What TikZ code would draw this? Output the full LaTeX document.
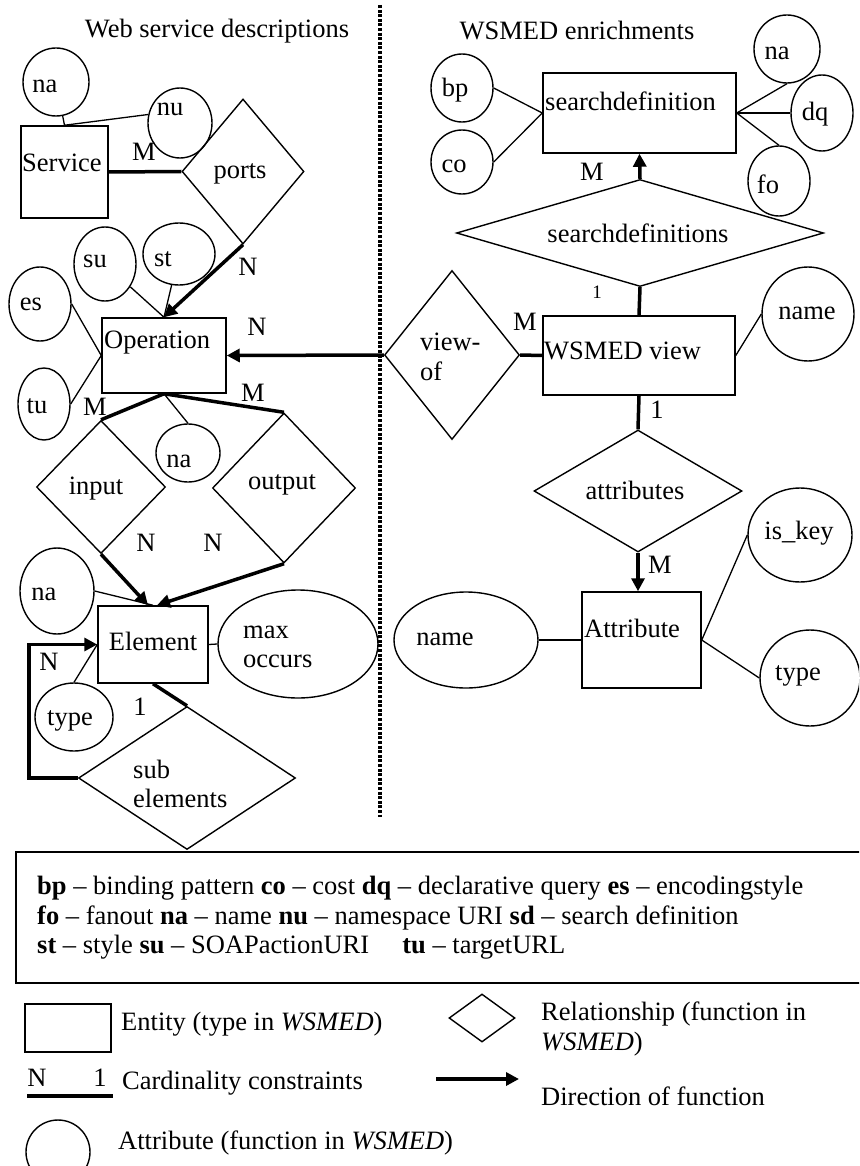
\documentclass[tikz,border=0pt]{standalone}
\usepackage{fontspec}
\setmainfont{Liberation Serif}
\usetikzlibrary{shapes.geometric,arrows.meta}
\begin{document}
\begin{tikzpicture}[x=1pt,y=-1pt,
  font=\fontsize{26.5}{29.5}\selectfont,
  ent/.style={draw,rectangle,line width=1.5pt,inner sep=0pt},
  rel/.style={draw,diamond,line width=1.4pt,inner sep=0pt},
  att/.style={draw,ellipse,line width=1.4pt,inner sep=0pt},
  lbl/.style={inner sep=0pt},
  conn/.style={line width=1.3pt},
  card/.style={line width=3.5pt},
  fn/.style={card,-{Triangle[length=13pt,width=13pt]}},
  smalllbl/.style={inner sep=0pt,font=\fontsize{19}{22}\selectfont}
]
\useasboundingbox (0,0) rectangle (859,1166);
\clip (0,0) rectangle (859,1166);

% titles and separator
\node[lbl] (t1) at (217,31) {Web service descriptions};
\node[lbl] (t2) at (577,31) {WSMED enrichments};
\coordinate (dtop) at (380,5);
\coordinate (dbot) at (380,817);
\draw[line width=3.2pt,dash pattern=on 3pt off 1.6pt] (dtop) -- (dbot);

% entities
\node[ent,minimum width=87pt,minimum height=92pt] (svc) at (64.5,172) {};
\node[ent,minimum width=124pt,minimum height=75pt] (op) at (164,355.5) {};
\node[ent,minimum width=110pt,minimum height=77pt] (el) at (153,644.5) {};
\node[ent,minimum width=193pt,minimum height=80pt] (sd) at (639.5,113) {};
\node[ent,minimum width=192pt,minimum height=79pt] (wv) at (639,355.5) {};
\node[ent,minimum width=119pt,minimum height=96pt] (attr) at (641.5,640) {};
\node[lbl,anchor=west] (svct) at (22,163) {Service};
\node[lbl,anchor=west] (opt) at (104,343) {Operation};
\node[lbl] (elt) at (153,641) {Element};
\node[lbl,anchor=west] (sdt) at (545,101) {searchdefinition};
\node[lbl,anchor=west] (wvt) at (544,351) {WSMED view};
\node[lbl,anchor=west] (attrt) at (584,628) {Attribute};

% relationships
\node[rel,minimum width=122pt,minimum height=145pt] (ports) at (243,171.5) {};
\node[rel,minimum width=367pt,minimum height=107pt] (sds) at (640,233) {};
\node[rel,minimum width=135pt,minimum height=169pt] (vo) at (452,355) {};
\node[rel,minimum width=129pt,minimum height=133pt] (in) at (101,487) {};
\node[rel,minimum width=143pt,minimum height=150pt] (out) at (284,488) {};
\node[rel,minimum width=208pt,minimum height=122pt] (attrs) at (638,491) {};
\node[rel,minimum width=217pt,minimum height=143pt] (se) at (187,778) {};
\node[lbl] (portst) at (240,174) {ports};
\node[lbl] (sdst) at (638,233) {searchdefinitions};
\node[lbl,anchor=west,align=left] (vot) at (420,357) {view-\\of};
\node[lbl] (int) at (96,489) {input};
\node[lbl] (outt) at (282,485) {output};
\node[lbl] (attrst) at (635,490) {attributes};
\node[lbl,anchor=west,align=left] (set) at (133,784) {sub\\elements};

% attributes (ellipses)
\node[att,minimum width=66pt,minimum height=68pt] (na1) at (56,82) {};
\node[att,minimum width=64pt,minimum height=70pt] (nu) at (180,123) {};
\node[att,minimum width=62pt,minimum height=74pt] (su) at (105,264) {};
\node[att,minimum width=72pt,minimum height=62pt] (st) at (179,254) {};
\node[att,minimum width=62pt,minimum height=74pt] (es) at (40,304) {};
\node[att,minimum width=52pt,minimum height=72pt] (tu) at (44,404) {};
\node[att,minimum width=64pt,minimum height=58pt] (na2) at (188,453) {};
\node[att,minimum width=74pt,minimum height=86pt] (na3) at (57,591) {};
\node[att,minimum width=160pt,minimum height=108pt] (mo) at (298,644) {};
\node[att,minimum width=78pt,minimum height=68pt] (type1) at (74,717) {};
\node[att,minimum width=62pt,minimum height=68pt] (bp) at (462,88) {};
\node[att,minimum width=62pt,minimum height=64pt] (co) at (462,162) {};
\node[att,minimum width=66pt,minimum height=68pt] (na4) at (787,49) {};
\node[att,minimum width=62pt,minimum height=76pt] (dq) at (822,113) {};
\node[att,minimum width=62pt,minimum height=70pt] (fo) at (779,181) {};
\node[att,minimum width=92pt,minimum height=94pt] (name1) at (808,314) {};
\node[att,minimum width=144pt,minimum height=96pt] (name2) at (466,640) {};
\node[att,minimum width=104pt,minimum height=94pt] (iskey) at (800,535) {};
\node[att,minimum width=100pt,minimum height=96pt] (type2) at (810,678) {};
\node[lbl] (na1t) at (45,86) {na};
\node[lbl] (nut) at (170,109) {nu};
\node[lbl] (sut) at (95,261) {su};
\node[lbl] (stt) at (163,259) {st};
\node[lbl] (est) at (31,304) {es};
\node[lbl] (tut) at (37,406) {tu};
\node[lbl] (na2t) at (179,461) {na};
\node[lbl] (na3t) at (44,594) {na};
\node[lbl,anchor=west,align=left] (mot) at (243,647) {max\\occurs};
\node[lbl] (type1t) at (70,721) {type};
\node[lbl] (bpt) at (455,90) {bp};
\node[lbl] (cot) at (454,166) {co};
\node[lbl] (na4t) at (777,53) {na};
\node[lbl] (dqt) at (815,114) {dq};
\node[lbl] (fot) at (768,184) {fo};
\node[lbl] (name1t) at (807,313) {name};
\node[lbl] (name2t) at (445,639) {name};
\node[lbl] (iskeyt) at (799,533) {is\_key};
\node[lbl] (type2t) at (798,676) {type};

% thin connectors (attributes)
\draw[conn] (na1) -- (svc.north);
\draw[conn] (svc.north) -- (nu.165);
\draw[conn] (su) -- (op.north);
\draw[conn] (st) -- (op.north);
\draw[conn] (es.east) -- (op.west);
\draw[conn] (tu.east) -- (op.west);
\draw[conn] (op.south) -- (na2.north);
\draw[conn] (na3.east) -- (el.north);
\draw[conn] (type1.north) -- (el.west);
\draw[conn] (el.east) -- (mo.west);
\draw[conn] (bp.east) -- (sd.west);
\draw[conn] (co.east) -- (sd.west);
\draw[conn] (sd.east) -- (na4.south);
\draw[conn] (sd.east) -- (dq.west);
\draw[conn] (sd.east) -- (fo.north);
\draw[conn] (wv.east) -- (name1.west);
\draw[conn] (name2.east) -- (attr.west);
\draw[conn] (attr.east) -- (iskey.west);
\draw[conn] (attr.east) -- (type2.west);

% thick connectors (relationships)
\draw[card] (svc.east) -- (ports.west);
\draw[fn] (ports.south) -- (op.north);
\draw[fn] (vo.west) -- (op.east);
\draw[card] (vo.east) -- (wv.west);
\draw[fn] (sds.north) -- (sd.south);
\draw[card] (sds.south) -- (wv.north);
\draw[card] (wv.south) -- (attrs.north);
\draw[fn] (attrs.south) -- (attrs.south |- attr.north);
\draw[card] (op.south) -- (in.north);
\draw[card] (op.south) -- (out.north);
\draw[fn] (in.south) -- ([xshift=-5pt]el.north);
\draw[fn] (out.south) -- ([xshift=4pt]el.north);
\draw[card] (el.south) -- (se.north);
\draw[fn] (se.west) -- ++(-49,0) |- (el.west);

% cardinality labels
\node[lbl] (c1) at (144,152) {M};
\node[lbl] (c2) at (248,267) {N};
\node[lbl] (c3) at (257,327) {N};
\node[lbl] (c4) at (525,322) {M};
\node[lbl] (c5) at (592,172) {M};
\node[smalllbl] (c6) at (597,292) {1};
\node[lbl] (c7) at (657,410) {1};
\node[lbl] (c8) at (660,565) {M};
\node[lbl] (c9) at (95,407) {M};
\node[lbl] (c10) at (253,393) {M};
\node[lbl] (c11) at (146,543) {N};
\node[lbl] (c12) at (213,543) {N};
\node[lbl] (c13) at (140,707) {1};
\node[lbl] (c14) at (49,662) {N};

% abbreviation box
\node[draw,line width=2pt,rectangle,inner sep=0pt,minimum width=870pt,minimum height=131pt] (abbr) at (451,917.5) {};
\node[lbl,anchor=west,align=left] (abbrt) at (37,918) {\textbf{bp} -- binding pattern \textbf{co} -- cost \textbf{dq} -- declarative query \textbf{es} -- encodingstyle\\
\textbf{fo} -- fanout \textbf{na} -- name \textbf{nu} -- namespace URI \textbf{sd} -- search definition\\
\textbf{st} -- style \textbf{su} -- SOAPactionURI\quad\ \textbf{tu} -- targetURL};

% legend
\node[ent,minimum width=86pt,minimum height=48pt] (lgent) at (68,1028) {};
\node[lbl,anchor=west] (lgentt) at (121,1024) {Entity (type in \textit{WSMED})};
\node[rel,minimum width=66pt,minimum height=48pt] (lgrel) at (482,1018) {};
\node[lbl,anchor=west,align=left] (lgrelt) at (541,1029) {Relationship (function in\\\textit{WSMED})};
\node[lbl] (lgn) at (37,1078) {N};
\node[lbl] (lg1) at (100,1078) {1};
\coordinate (lgc1) at (27,1096);
\coordinate (lgc2) at (113,1096);
\draw[card] (lgc1) -- (lgc2);
\node[lbl,anchor=west] (lgct) at (122,1083) {Cardinality constraints};
\coordinate (lga1) at (436,1079);
\coordinate (lga2) at (519,1079);
\draw[fn] (lga1) -- (lga2);
\node[lbl,anchor=west] (lgat) at (541,1096) {Direction of function};
\node[att,minimum width=64pt,minimum height=64pt] (lgatt) at (58,1152) {};
\node[lbl,anchor=west] (lgattt) at (118,1143) {Attribute (function in \textit{WSMED})};
\end{tikzpicture}
\end{document}
